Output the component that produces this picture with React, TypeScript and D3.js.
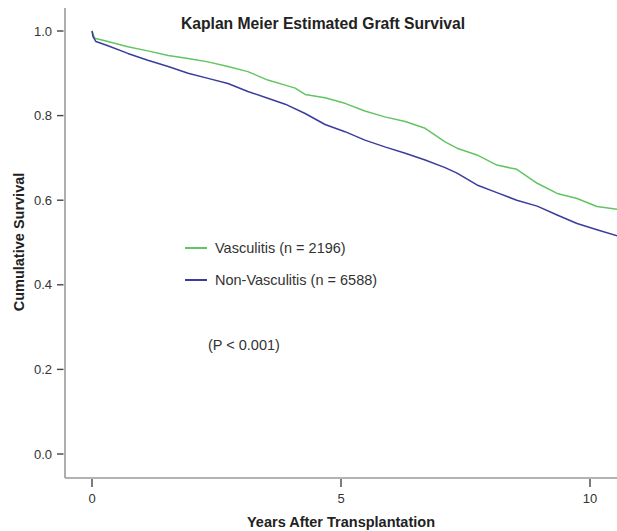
import React from "react";
import * as d3 from "d3";

const W = 617;
const H = 531;

const title = "Kaplan Meier Estimated Graft Survival";
const xLabel = "Years After Transplantation";
const yLabel = "Cumulative Survival";
const xTicks = [0, 5, 10];
const yTicks = [0.0, 0.2, 0.4, 0.6, 0.8, 1.0];

const vascYears = [0, 0.054, 0.32, 0.72, 1.12, 1.53, 1.93, 2.33, 2.73, 3.13, 3.53, 3.88, 4.08, 4.28, 4.68, 5.08, 5.48, 5.88, 6.29, 6.69, 7.09, 7.33, 7.73, 8.13, 8.53, 8.94, 9.34, 9.74, 10.14, 10.6];
const vascSurv = [1.0, 0.983, 0.975, 0.963, 0.953, 0.942, 0.935, 0.927, 0.916, 0.904, 0.884, 0.872, 0.865, 0.85, 0.842, 0.829, 0.811, 0.797, 0.786, 0.77, 0.738, 0.723, 0.707, 0.683, 0.673, 0.64, 0.616, 0.604, 0.585, 0.578];

const nonVascYears = [0, 0.02, 0.08, 0.32, 0.72, 1.12, 1.53, 1.93, 2.33, 2.73, 3.13, 3.53, 3.88, 4.28, 4.68, 5.08, 5.48, 5.88, 6.29, 6.69, 7.09, 7.33, 7.73, 8.13, 8.53, 8.94, 9.34, 9.74, 10.14, 10.6];
const nonVascSurv = [1.0, 0.987, 0.975, 0.965, 0.947, 0.931, 0.916, 0.9, 0.888, 0.876, 0.857, 0.841, 0.827, 0.805, 0.779, 0.762, 0.742, 0.726, 0.711, 0.695, 0.677, 0.664, 0.636, 0.618, 0.6, 0.586, 0.565, 0.545, 0.53, 0.514];

const seriesNames = ["Vasculitis (n = 2196)", "Non-Vasculitis (n = 6588)"];
const seriesColors = ["#62c462", "#3a3d9c"];
const pText = "(P < 0.001)";

const FONT = "'Liberation Sans', Arial, sans-serif";

export default function App() {
  const x = d3.scaleLinear().domain([0, 10]).range([92, 590]);
  const y = d3.scaleLinear().domain([0, 1]).range([454, 31]);
  const axisX = 65;
  const axisY = 478;

  const line = d3
    .line<[number, number]>()
    .x((d) => x(d[0]))
    .y((d) => y(d[1]))
    .curve(d3.curveLinear);

  const series = [
    vascYears.map((t, i) => [t, vascSurv[i]] as [number, number]),
    nonVascYears.map((t, i) => [t, nonVascSurv[i]] as [number, number]),
  ];

  return (
    <svg
      width={W}
      height={H}
      style={{ position: "absolute", left: 0, top: 0, background: "#fff" }}
      fontFamily={FONT}
    >
      <defs>
        <clipPath id="plotclip">
          <rect x={axisX} y={0} width={W - axisX} height={axisY} />
        </clipPath>
      </defs>
      <rect x={0} y={0} width={W} height={H} fill="#fff" />

      <line x1={axisX} y1={8} x2={axisX} y2={axisY} stroke="#9a9a9a" strokeWidth={1.6} />
      <line x1={axisX} y1={axisY} x2={W} y2={axisY} stroke="#9a9a9a" strokeWidth={1.6} />

      {yTicks.map((v) => (
        <g key={"y" + v}>
          <line x1={57} x2={63.5} y1={y(v)} y2={y(v)} stroke="#444" strokeWidth={1.4} />
          <text
            x={52}
            y={y(v)}
            textAnchor="end"
            dominantBaseline="central"
            fontSize={13}
            fill="#333"
          >
            {v.toFixed(1)}
          </text>
        </g>
      ))}

      {xTicks.map((v) => (
        <g key={"x" + v}>
          <line x1={x(v)} x2={x(v)} y1={axisY + 1} y2={axisY + 9} stroke="#444" strokeWidth={1.4} />
          <text x={x(v)} y={503} textAnchor="middle" fontSize={13} fill="#333">
            {v}
          </text>
        </g>
      ))}

      <text
        x={x(5)}
        y={527}
        textAnchor="middle"
        fontSize={14.5}
        fontWeight="bold"
        fill="#222"
      >
        {xLabel}
      </text>
      <text
        transform={`translate(24, 242) rotate(-90)`}
        textAnchor="middle"
        fontSize={14.5}
        fontWeight="bold"
        fill="#222"
      >
        {yLabel}
      </text>

      <text x={323} y={29} textAnchor="middle" fontSize={15.7} fontWeight="bold" fill="#222">
        {title}
      </text>

      <g clipPath="url(#plotclip)">
        {series.map((s, i) => (
          <path
            key={i}
            d={line(s) || ""}
            fill="none"
            stroke={seriesColors[i]}
            strokeWidth={1.5}
            strokeLinejoin="round"
          />
        ))}
      </g>

      {seriesNames.map((name, i) => (
        <g key={name}>
          <line
            x1={185}
            x2={207}
            y1={248 + i * 32}
            y2={248 + i * 32}
            stroke={seriesColors[i]}
            strokeWidth={2}
          />
          <text
            x={215}
            y={248 + i * 32}
            dominantBaseline="central"
            fontSize={14.5}
            fill="#333"
          >
            {name}
          </text>
        </g>
      ))}
      <text x={208} y={345} dominantBaseline="central" fontSize={14.5} fill="#333">
        {pText}
      </text>
    </svg>
  );
}
